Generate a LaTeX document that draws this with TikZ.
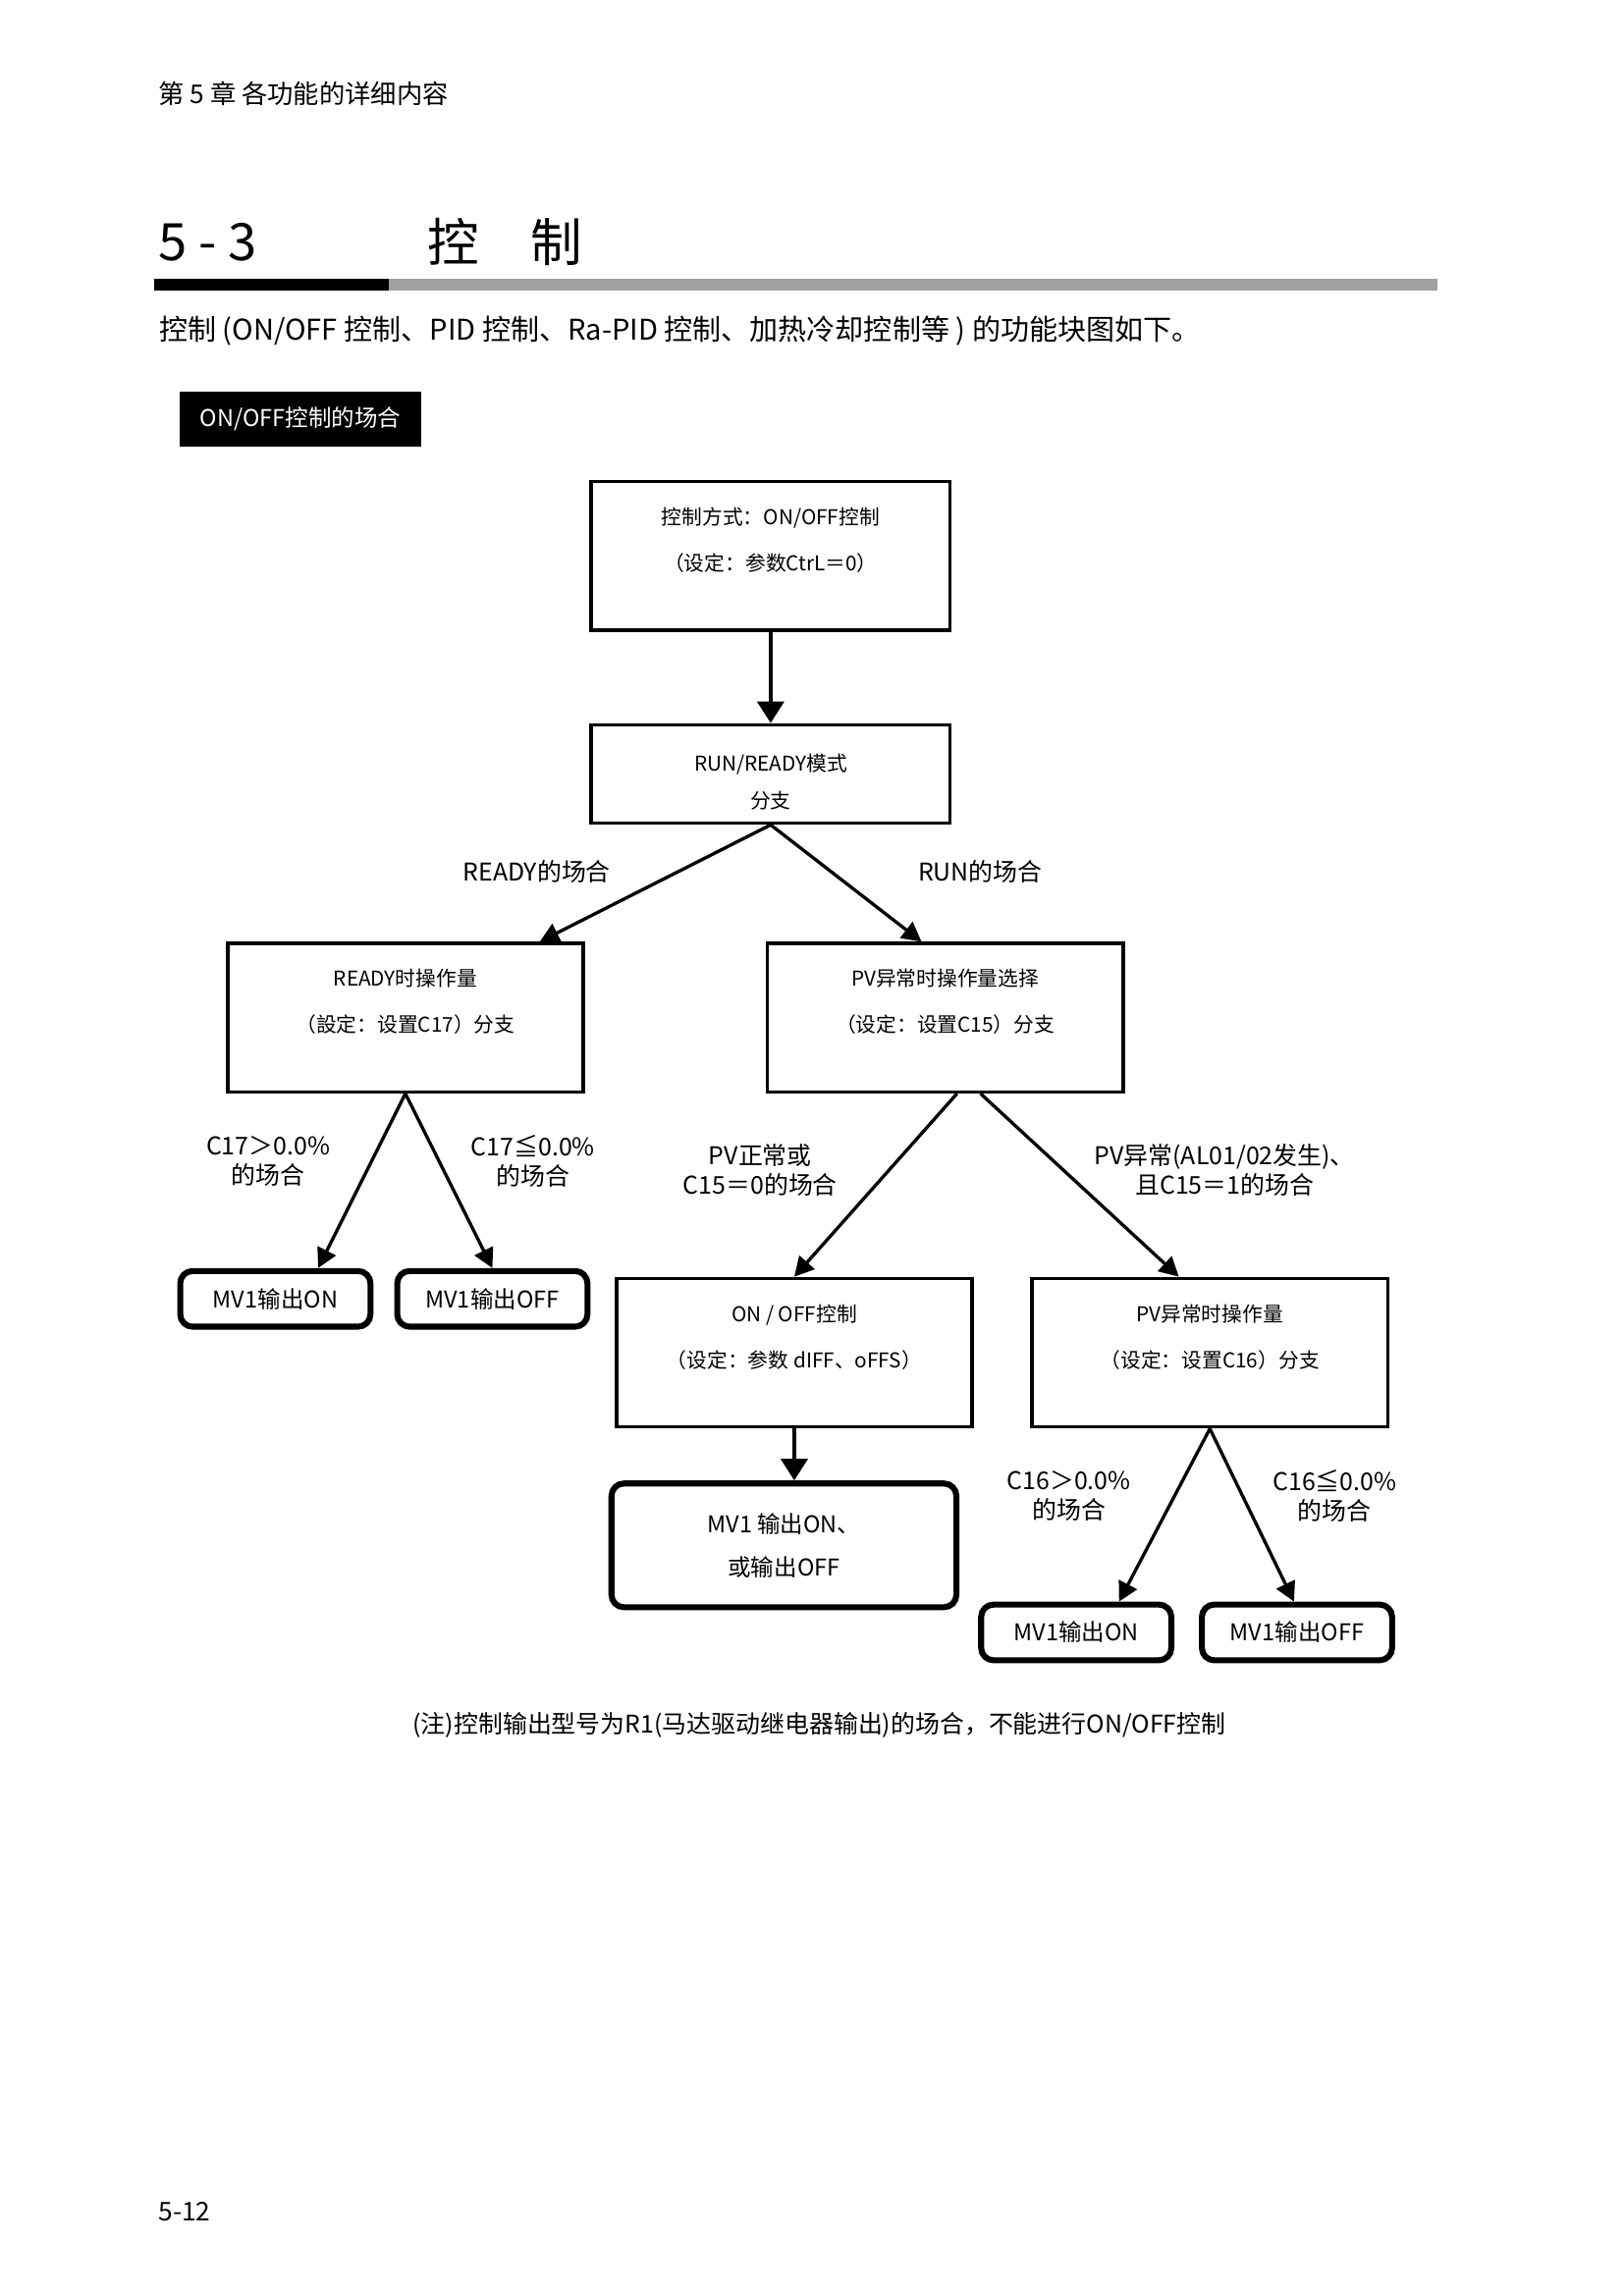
\documentclass[tikz,border=0pt]{standalone}
\usepackage{fontspec}
\setmainfont{Noto Sans CJK SC}
\usetikzlibrary{arrows.meta,calc}
\definecolor{barGray}{gray}{0.63}

\begin{document}
\begin{tikzpicture}[x=0.1909mm, y=-0.1909mm,
    blk/.style={draw, line width=1.3pt, minimum width=46mm, minimum height=19.2mm},
    outbox/.style={draw, line width=2.2pt, rounded corners=1.6mm,
                   minimum width=24.6mm, minimum height=7.2mm,
                   font=\fontsize{8.5}{10}\selectfont},
    intxt/.style={align=center, font=\fontsize{7.5}{16.8}\selectfont},
    lbl/.style={align=center, font=\fontsize{9}{10.8}\selectfont},
    plain/.style={anchor=west, inner sep=0pt},
    arr/.style={line width=1.2pt, -{Triangle[length=2.5mm, width=2.6mm]}},
    varr/.style={line width=1.6pt, -{Triangle[length=2.8mm, width=3.4mm]}}]

    \useasboundingbox (0,0) rectangle (1100,1555.6);

    \node[plain, font=\fontsize{9.5}{11}\selectfont] (chap) at (107,63.4) {第 5 章 各功能的详细内容};
    \node[plain, font=\fontsize{19}{22}\selectfont] (secnum) at (107,164) {5 - 3};
    \node[plain, font=\fontsize{19}{22}\selectfont] (sectitle) at (289,164) {控　制};
    \fill (104.5,189) rectangle (263.5,197);
    \fill[barGray] (263.5,189) rectangle (973.6,197);
    \node[plain, font=\fontsize{10.5}{12}\selectfont] (intro) at (107.5,224)
        {控制 (ON/OFF 控制、PID 控制、Ra-PID 控制、加热冷却控制等 ) 的功能块图如下。};
    \node[fill=black, text=white, minimum width=31.3mm, minimum height=7.1mm,
          font=\fontsize{8.5}{10}\selectfont] (tag) at (203.6,284) {ON/OFF控制的场合};

    \node[blk, minimum width=46.4mm] (mode) at (522,376.5) {};
    \node[intxt] (modetxt) at ([yshift=2mm]mode.center) {控制方式：ON/OFF控制\\（设定：参数CtrL＝0）};

    \node[blk, minimum width=46.4mm, minimum height=12.7mm] (branch) at (522,524.4) {};
    \node[intxt, font=\fontsize{7.5}{13.8}\selectfont] (branchtxt) at ([yshift=-1mm]branch.center) {RUN/READY模式\\分支};

    \node[blk] (ready) at (274.6,689.5) {};
    \node[intxt] (readytxt) at ([yshift=2.1mm]ready.center) {READY时操作量\\（設定：设置C17）分支};

    \node[blk] (pvsel) at (640.2,689.5) {};
    \node[intxt] (pvseltxt) at ([yshift=2.1mm]pvsel.center) {PV异常时操作量选择\\（设定：设置C15）分支};

    \node[outbox] (mvonA) at (186.5,880) {MV1输出ON};
    \node[outbox] (mvoffA) at (333.5,880) {MV1输出OFF};

    \node[blk] (onoff) at (538,916.5) {};
    \node[intxt] (onofftxt) at ([yshift=2mm]onoff.center) {ON / OFF控制\\（设定：参数 dIFF、oFFS）};

    \node[blk] (pvmv) at (819.5,916.5) {};
    \node[intxt] (pvmvtxt) at ([yshift=2mm]pvmv.center) {PV异常时操作量\\（设定：设置C16）分支};

    \node[outbox, minimum width=44.6mm, minimum height=16mm, align=center,
          font=\fontsize{8.5}{16}\selectfont] (mvboth) at (531,1047) {MV1 输出ON、\\或输出OFF};

    \node[outbox] (mvonB) at (729,1106) {MV1输出ON};
    \node[outbox] (mvoffB) at (878.5,1106) {MV1输出OFF};

    \draw[varr] (mode.south) -- (mode.south |- branch.north);
    \draw[arr] (branch.south) -- ($(ready.north)+(91,0)$);
    \draw[arr] (branch.south) -- ($(pvsel.north)+(-16,0)$);
    \draw[arr] (ready.south) -- ($(mvonA.north)+(29,0)$);
    \draw[arr] (ready.south) -- (mvoffA.north);
    \draw[arr] ($(pvsel.south)+(8,0)$) -- (onoff.north);
    \draw[arr] ($(pvsel.south)+(24,0)$) -- ($(pvmv.north)+(-21,0)$);
    \draw[varr] (onoff.south) -- (onoff.south |- mvboth.north);
    \draw[arr] (pvmv.south) -- ($(mvonB.north)+(29,0)$);
    \draw[arr] (pvmv.south) -- ($(mvoffB.north)+(-2,0)$);

    \node[lbl] (readycase) at (363.6,590.7) {READY的场合};
    \node[lbl] (runcase) at (664,590.7) {RUN的场合};
    \node[lbl] (cAgt) at (181.6,787) {C17＞0.0\%\\的场合};
    \node[lbl] (cAle) at (361,787) {C17≦0.0\%\\的场合};
    \node[lbl] (pvok) at (515,793) {PV正常或\\C15＝0的场合};
    \node[lbl] (pvng) at (829.5,793) {PV异常(AL01/02发生)、\\且C15＝1的场合};
    \node[lbl] (cBgt) at (724,1013.5) {C16＞0.0\%\\的场合};
    \node[lbl] (cBle) at (904,1013.5) {C16≦0.0\%\\的场合};

    \node[font=\fontsize{9}{11}\selectfont] (note) at (555,1169)
        {(注)控制输出型号为R1(马达驱动继电器输出)的场合，不能进行ON/OFF控制};
    \node[plain, font=\fontsize{9.5}{11}\selectfont] (pageno) at (107,1498.5) {5-12};
\end{tikzpicture}
\end{document}
